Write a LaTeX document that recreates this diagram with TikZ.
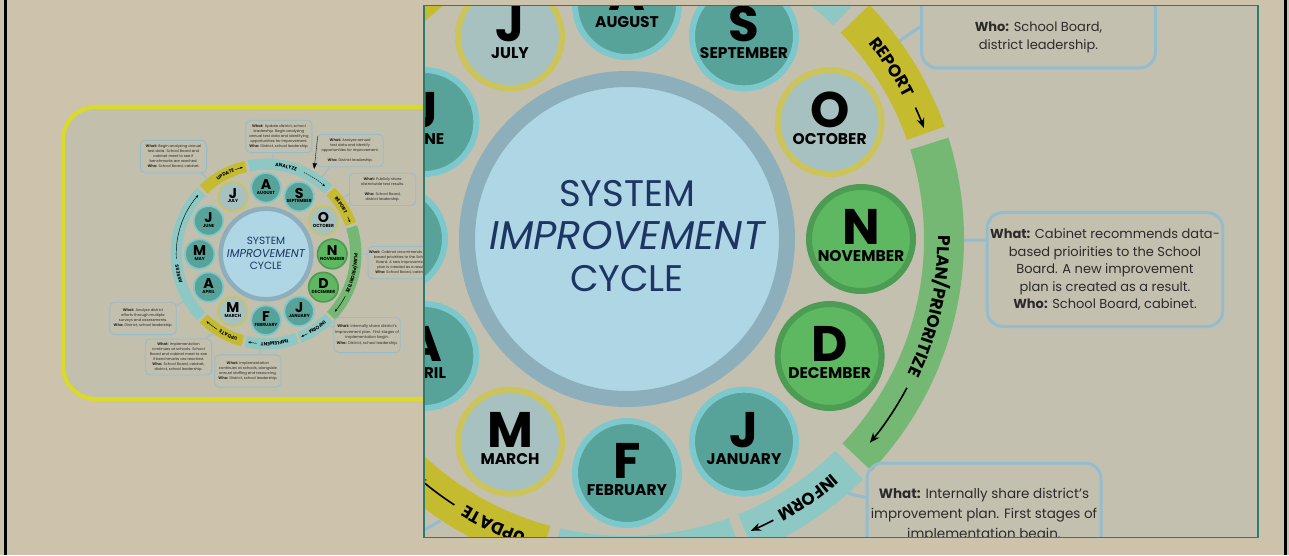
\documentclass[tikz,border=0pt]{standalone}
\usepackage{fontspec}
\setmainfont{Poppins}
\usetikzlibrary{decorations.text,arrows.meta}

\definecolor{pagebg}{HTML}{CDC2AB}
\definecolor{panelbg}{HTML}{C2BFAD}
\definecolor{insetbg}{HTML}{C4C0AF}
\definecolor{insetline}{HTML}{2C7B6C}
\definecolor{frameyellow}{HTML}{D9DC22}
\definecolor{bandteal}{HTML}{8DC8C4}
\definecolor{bandgold}{HTML}{C4BC2E}
\definecolor{bandgreen}{HTML}{74B874}
\definecolor{monthteal}{HTML}{57A39A}
\definecolor{ringteal}{HTML}{7DC8CC}
\definecolor{monthgold}{HTML}{A7C0C0}
\definecolor{ringgold}{HTML}{CBC45B}
\definecolor{monthgreen}{HTML}{5EB862}
\definecolor{ringgreen}{HTML}{4D9C53}
\definecolor{coreblue}{HTML}{AED6E4}
\definecolor{corering}{HTML}{8CAFBB}
\definecolor{titleblue}{HTML}{1D3563}
\definecolor{calloutline}{HTML}{93BCCF}
\definecolor{calloutink}{HTML}{2B2B2B}

\newcommand\titlefont{\fontsize{37}{40}\selectfont}
\newcommand\titlewidefont{\fontsize{40}{42}\selectfont\itshape}
\newcommand\monthbigfont{\fontsize{50}{50}\selectfont\bfseries}
\newcommand\monthnamefont{\fontsize{15.5}{16}\selectfont\bfseries}
\newcommand\bandfont{\fontsize{17}{17}\selectfont\bfseries}
\newcommand\calloutfont{\fontsize{13}{17.5}\selectfont}

\tikzset{
  month/.style={circle, minimum size=104pt, inner sep=0pt, line width=6pt,
    fill=month#1, draw=ring#1},
  titletext/.style={font=\titlefont, text=titleblue, inner sep=0pt},
  callout/.style={draw=calloutline, line width=3pt, rounded corners=16pt,
    minimum width=234pt, minimum height=114pt, align=center, inner sep=3pt,
    font=\calloutfont, text=calloutink},
  calloutlink/.style={draw=calloutline, line width=3pt},
  bandarrow/.style={line width=1.6pt, -{Stealth[length=10pt,width=8pt]}},
}

% one segment of the outer ring: start angle, end angle (clockwise), colour
\newcommand\ringband[3]{%
  \fill[#3] (#1:297) arc[start angle=#1,end angle=#2,radius=297]
    -- (#2:337) arc[start angle=#2,end angle=#1,radius=337] -- cycle;}
% label running clockwise along the ring, centred on the given angle
\newcommand\ringlabel[2]{%
  \path[decorate,decoration={text along path,text align=center,
    text={|\bandfont|#2}}]
    (#1+30:311) arc[start angle=#1+30,end angle=#1-30,radius=311];}
% arrow running clockwise along the ring
\newcommand\ringarrow[3][]{%
  \draw[bandarrow,#1] (#2:317) arc[start angle=#2,end angle=#3,radius=317];}

% the whole cycle, centred on the origin
\newcommand\drawcycle{%
  \ringband{101}{46}{bandteal}
  \ringband{44}{19.5}{bandgold}
  \ringband{17.5}{-43.5}{bandgreen}
  \ringband{-45.5}{-68}{bandteal}
  \ringband{-70}{-103}{bandteal}
  \ringband{-105}{-134}{bandgold}
  \ringband{-136}{-224}{bandteal}
  \ringband{134}{103}{bandgold}
  \ringlabel{77}{ANALYZE}
  \ringlabel{33}{REPORT}
  \ringlabel{-12.5}{PLAN/PRIORITIZE}
  \ringlabel{-55}{INFORM}
  \ringlabel{-84.5}{IMPLEMENT}
  \ringlabel{-115}{UPDATE}
  \ringlabel{193}{ASSESS}
  \ringlabel{117}{UPDATE}
  \ringarrow[dash pattern=on 5pt off 3pt]{65}{49}
  \ringarrow{24.5}{20.5}
  \ringarrow{-28}{-40}
  \ringarrow{-62.5}{-67}
  \ringarrow{-96}{-101.5}
  \ringarrow{-123}{-131.5}
  \ringarrow{183}{139}
  \ringarrow{110}{105}
  % callouts
  \node[callout] (c1) at (-326.5,344) {\textbf{What:} Begin analyzing annual\\test data. School Board and\\cabinet meet to see if\\benchmarks are reached.\\\textbf{Who:} School Board, cabinet.};
  \node[callout, minimum width=233pt] (c2) at (45.5,415) {\textbf{What:} Update district, school\\leadership. Begin analyzing\\annual test data and identifying\\opportunities for improvement.\\\textbf{Who:} District, school leadership.};
  \node[callout] (c3) at (297,365) {\textbf{What:} Analyze annual\\test data and identify\\opportunities for improvement.\\[17.5pt]\textbf{Who:} District leadership.};
  \node[callout] (c4) at (411.5,228) {\textbf{What:} Publicly share\\districtwide test results.\\[17.5pt]\textbf{Who:} School Board,\\district leadership.};
  \node[callout] (c5) at (478,-30.5) {\textbf{What:} Cabinet recommends data-\\based prioirities to the School\\Board. A new improvement\\plan is created as a result.\\\textbf{Who:} School Board, cabinet.};
  \node[callout, font=\fontsize{13.5}{20}\selectfont, minimum height=124pt] (c6) at (357,-286) {\textbf{What:} Internally share district’s\\improvement plan. First stages of\\implementation begin.\\\textbf{Who:} District, school leadership.};
  \node[callout] (c7) at (-64,-413) {\textbf{What:} Implementation\\continues at schools, alongside\\annual staffing and resourcing.\\\textbf{Who:} District, school leadership.};
  \node[callout, minimum height=127pt] (c8) at (-309,-363.5) {\textbf{What:} Implementation\\continues at schools. School\\Board and cabinet meet to see\\if benchmarks are reached.\\\textbf{Who:} School Board, cabinet,\\district, school leadership.};
  \node[callout] (c9) at (-434,-227.5) {\textbf{What:} Analyze district\\efforts through multiple\\surveys and assessments.\\\textbf{Who:} District, school leadership.};
  \coordinate (k1) at (128:337);
  \coordinate (k2) at (85.7:337);
  \coordinate (k3) at (54:338);
  \coordinate (k3b) at (60.5:345);
  \coordinate (k4) at (36:337);
  \coordinate (k5) at (-0.2:337);
  \coordinate (k6) at (-49:337);
  \coordinate (k7) at (-93.6:337);
  \coordinate (k8) at (-123.5:338);
  \coordinate (k9) at (-150:337);
  \draw[calloutlink] ([xshift=-20pt]c1.south east) -- (k1);
  \draw[calloutlink] ([xshift=-20.5pt]c2.south) -- (k2);
  \draw[calloutlink] ([xshift=45pt]c3.south west) -- (k3);
  \draw[line width=1.2pt, -{Triangle[length=20pt,width=15pt]}]
    ([xshift=4pt,yshift=-8pt]c3.north west) -- (k3b);
  \draw[calloutlink] ([yshift=-16pt]c4.west) -- (k4);
  \draw[calloutlink] ([yshift=29.5pt]c5.west) -- (k5);
  \draw[calloutlink] ([yshift=-36pt]c6.north west) -- (k6);
  \draw[calloutlink] ([xshift=43pt]c7.north) -- (k7);
  \draw[calloutlink] ([xshift=-26pt]c8.north east) -- (k8);
  \draw[calloutlink] ([yshift=-12pt]c9.north east) -- (k9);
  % centre
  \node[circle, fill=coreblue, draw=corering, line width=16pt,
    minimum size=320pt, inner sep=0pt] (core) at (0,0) {};
  \node[titletext] (t1) at (0,45) {SYSTEM};
  \node[titletext, font=\titlewidefont] (t2) at (0,3) {IMPROVEMENT};
  \node[titletext] (t3) at (0,-40) {CYCLE};
  % months
  \foreach \ang/\lt/\nm/\sty in {90/A/AUGUST/teal, 60/S/SEPTEMBER/teal,
      30/O/OCTOBER/gold, 0/N/NOVEMBER/green, -30/D/DECEMBER/green,
      -60/J/JANUARY/teal, -90/F/FEBRUARY/teal, -120/M/MARCH/gold,
      -150/A/APRIL/teal, 180/M/MAY/teal, 150/J/JUNE/teal, 120/J/JULY/gold}{
    \node[month=\sty] (m-\nm) at (\ang:234) {};
    \node[font=\monthbigfont, inner sep=0pt] (ml-\nm) at ([yshift=12pt]m-\nm.center) {\lt};
    \node[font=\monthnamefont, inner sep=0pt] (mn-\nm) at ([yshift=-17pt]m-\nm.center) {\nm};
  }
}

\begin{document}
\begin{tikzpicture}[x=1pt,y=1pt]
  \useasboundingbox (0,0) rectangle (1289,555);
  \fill[pagebg] (0,0) rectangle (1289,555);
  \draw[black, line width=3pt] (5.5,0) -- (5.5,555);
  \draw[black, line width=3pt] (1285.5,0) -- (1285.5,555);
  % framed panel holding the full-size overview
  \filldraw[fill=panelbg, draw=frameyellow, line width=4pt, rounded corners=33pt]
    (480,448) -- (63,448) -- (63,156) -- (480,156);
  \begin{scope}[transform canvas={shift={(266,301)},scale=0.2833}, name prefix=s-]
    \drawcycle
  \end{scope}
  % enlarged detail
  \fill[insetbg] (424,17.3) rectangle (1258,549.3);
  \begin{scope}
    \clip (424,17.3) rectangle (1258,549.3);
    \begin{scope}[shift={(627,316)}, name prefix=b-]
      \drawcycle
    \end{scope}
  \end{scope}
  \draw[insetline, line width=1.5pt] (424,17.3) rectangle (1258,549.3);
\end{tikzpicture}
\end{document}
